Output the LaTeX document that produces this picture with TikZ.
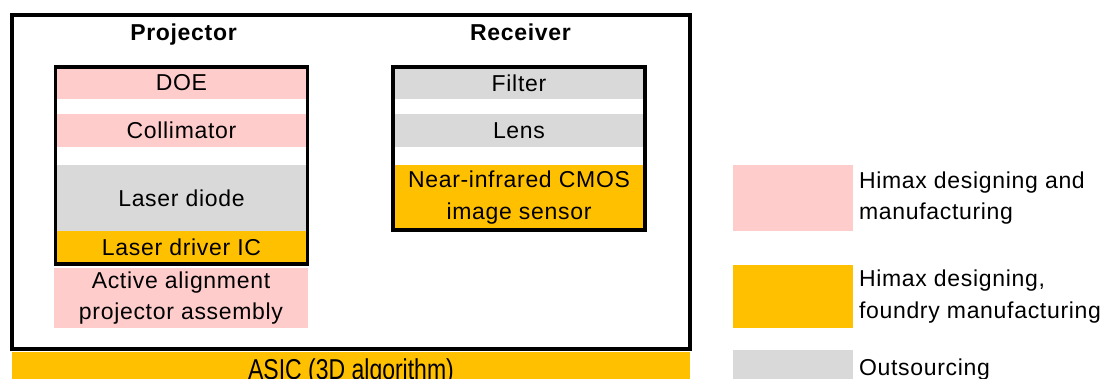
\documentclass[tikz,border=0pt]{standalone}
\usepackage{fontspec}
\setmainfont[LetterSpace=3]{Liberation Sans}
\usetikzlibrary{positioning,fit}
\definecolor{himaxpink}{RGB}{255,204,204}
\definecolor{himaxorange}{RGB}{255,192,0}
\definecolor{outgray}{RGB}{217,217,217}

\begin{document}
\begin{tikzpicture}[x=1pt,y=-1pt,
    every node/.style={font=\fontsize{23}{31.5}\selectfont,inner sep=0pt,outer sep=0pt},
    layer/.style={minimum width=252pt,align=center},
    stackframe/.style={draw,line width=3.5pt,inner sep=0pt},
    headtext/.style={font=\fontsize{23}{28}\selectfont\bfseries,anchor=base},
    legendbox/.style={minimum width=120pt,anchor=north west}]
  \clip (0,0) rectangle (1102,379);
  % module outline and ASIC bar
  \node[draw,line width=4pt,minimum width=678pt,minimum height=334pt,anchor=north west] (module) at (12,15) {};
  \node[fill=himaxorange,minimum width=678pt,minimum height=40pt,anchor=north west] (asic) at (12,352) {};
  \node[anchor=base,yscale=1.25,transform shape,
        font=\fontsize{23}{28}\selectfont\addfontfeature{LetterSpace=0}]
       (asiclbl) at ([yshift=-27pt]asic.north) {ASIC (3D algorithm)};

  \node[headtext] (projlbl) at (183.5,41) {Projector};
  \node[headtext] (recvlbl) at (520.5,41) {Receiver};

  % projector stack
  \node[layer,fill=himaxpink,minimum height=32pt,anchor=north] (doe) at (181.5,67) {DOE};
  \node[layer,fill=himaxpink,minimum height=33pt,below=15pt of doe] (coll) {Collimator};
  \node[layer,fill=outgray,minimum height=66pt,below=18pt of coll] (diode) {Laser diode};
  \node[layer,fill=himaxorange,minimum height=33pt,below=0pt of diode] (driver) {Laser driver IC};
  \node[stackframe,fit=(doe)(driver)] (proj) {};
  \node[layer,fill=himaxpink,minimum width=254pt,minimum height=60pt,anchor=north] (assembly) at (181,268)
       {Active alignment\\projector assembly};

  % receiver stack
  \node[layer,fill=outgray,minimum height=32pt,anchor=north] (filter) at (519,67) {Filter};
  \node[layer,fill=outgray,minimum height=33pt,below=15pt of filter] (lens) {Lens};
  \node[layer,fill=himaxorange,minimum height=65pt,below=18pt of lens] (sensor)
       {Near-infrared CMOS\\image sensor};
  \node[stackframe,fit=(filter)(sensor)] (recv) {};

  % legend
  \node[legendbox,fill=himaxpink,minimum height=66pt] (keypink) at (733,165) {};
  \node[right=6pt of keypink,align=left] (txtpink) {Himax designing and\\manufacturing};
  \node[legendbox,fill=himaxorange,minimum height=63pt] (keyorange) at (733,265) {};
  \node[right=6pt of keyorange,align=left] (txtorange) {Himax designing,\\foundry manufacturing};
  \node[legendbox,fill=outgray,minimum height=40pt] (keygray) at (733,350) {};
  \node[right=6pt of keygray,align=left] (txtgray) {Outsourcing};
\end{tikzpicture}
\end{document}
